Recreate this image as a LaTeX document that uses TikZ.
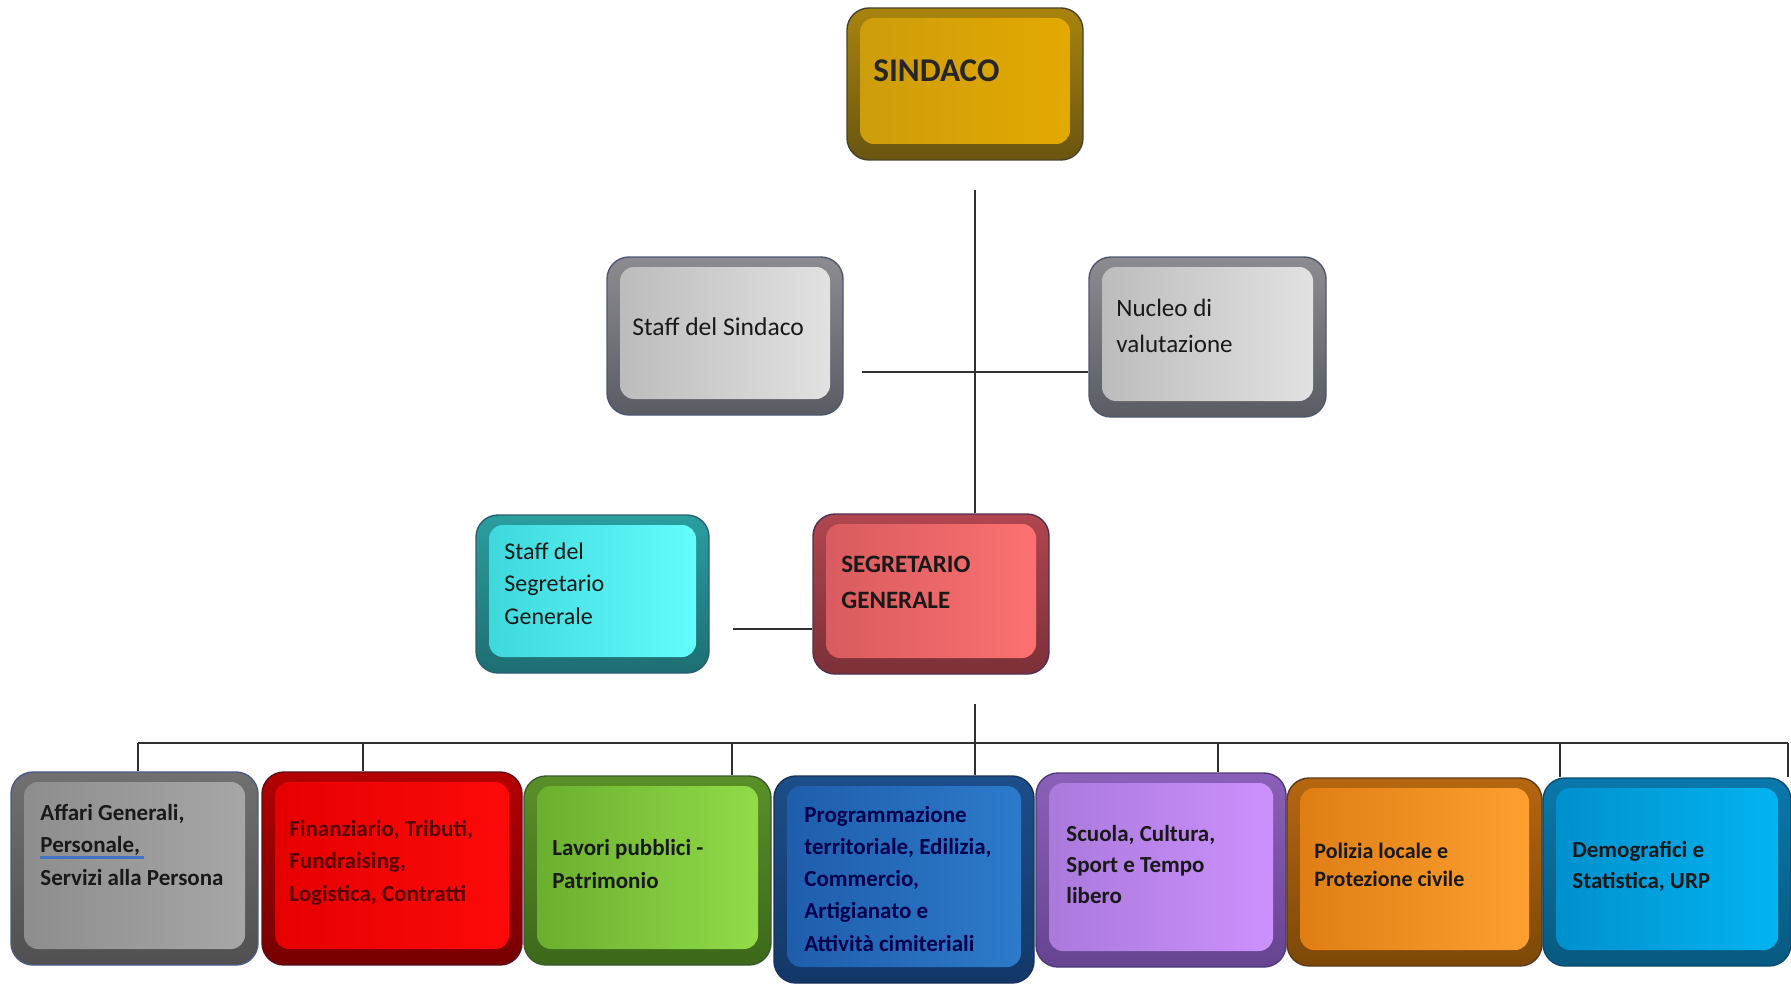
\documentclass[tikz,border=0pt]{standalone}
\usepackage{fontspec}
\setmainfont{Carlito}
\usepackage{tikz}
\usetikzlibrary{positioning}

% face left / face right / rim top / rim bottom / outline
\definecolor{goldL}{HTML}{CC9C0C}\definecolor{goldR}{HTML}{E4AA00}\definecolor{goldT}{HTML}{A8840E}\definecolor{goldB}{HTML}{6A5510}\definecolor{goldO}{HTML}{4A4030}
\definecolor{greyL}{HTML}{BABABA}\definecolor{greyR}{HTML}{E4E4E4}\definecolor{greyT}{HTML}{8C8C90}\definecolor{greyB}{HTML}{5A5C64}\definecolor{greyO}{HTML}{4E5870}
\definecolor{cyanL}{HTML}{3CD6DA}\definecolor{cyanR}{HTML}{66FFFF}\definecolor{cyanT}{HTML}{2A9EA0}\definecolor{cyanB}{HTML}{1E6E72}\definecolor{cyanO}{HTML}{2A5E70}
\definecolor{pinkL}{HTML}{D65A5E}\definecolor{pinkR}{HTML}{FF7272}\definecolor{pinkT}{HTML}{B04650}\definecolor{pinkB}{HTML}{7C3038}\definecolor{pinkO}{HTML}{503050}
\definecolor{ashL}{HTML}{8C8C8C}\definecolor{ashR}{HTML}{A8A8A8}\definecolor{ashT}{HTML}{707070}\definecolor{ashB}{HTML}{505050}\definecolor{ashO}{HTML}{4A5A88}
\definecolor{redL}{HTML}{E40000}\definecolor{redR}{HTML}{FF0A0A}\definecolor{redT}{HTML}{B40000}\definecolor{redB}{HTML}{760000}\definecolor{redO}{HTML}{5A1020}
\definecolor{leafL}{HTML}{68AC2E}\definecolor{leafR}{HTML}{94DE4A}\definecolor{leafT}{HTML}{5A9028}\definecolor{leafB}{HTML}{3C681A}\definecolor{leafO}{HTML}{3A5A30}
\definecolor{navyL}{HTML}{1E5CAA}\definecolor{navyR}{HTML}{2E7CCC}\definecolor{navyT}{HTML}{1C4E8A}\definecolor{navyB}{HTML}{123868}\definecolor{navyO}{HTML}{1A3058}
\definecolor{lilacL}{HTML}{A878DA}\definecolor{lilacR}{HTML}{CE92FF}\definecolor{lilacT}{HTML}{8A60B8}\definecolor{lilacB}{HTML}{664490}\definecolor{lilacO}{HTML}{4E3A78}
\definecolor{amberL}{HTML}{DE7C12}\definecolor{amberR}{HTML}{FFA232}\definecolor{amberT}{HTML}{B66610}\definecolor{amberB}{HTML}{7C4808}\definecolor{amberO}{HTML}{5A3A20}
\definecolor{skyL}{HTML}{008ECC}\definecolor{skyR}{HTML}{02B6F2}\definecolor{skyT}{HTML}{0A78AA}\definecolor{skyB}{HTML}{085A80}\definecolor{skyO}{HTML}{0A4A70}
\definecolor{wireC}{HTML}{303030}
\definecolor{ulblue}{HTML}{4472C4}

\newcommand{\squiggle}[1]{{\setbox0\hbox{#1\,}\rlap{\color{ulblue}\rule[-3pt]{\wd0}{1.4pt}}#1}}

\tikzset{
  block/.style={rectangle, rounded corners=11pt, draw=#1O, line width=0.7pt,
    top color=#1T, bottom color=#1B,
    path picture={\shade[rounded corners=7pt, left color=#1L, right color=#1R]
      ([shift={(6.5pt,8pt)}]path picture bounding box.south west) rectangle
      ([shift={(-6.5pt,-5pt)}]path picture bounding box.north east);}},
  boxtext/.style={anchor=base west, align=left, inner sep=0pt, text=black!90},
  unit/.style={boxtext, font=\fontsize{11.5pt}{16.25pt}\selectfont\bfseries},
  wire/.style={draw=wireC, line width=1.2pt}
}

\begin{document}
\begin{tikzpicture}[x=0.5pt, y=-0.5pt]
    \useasboundingbox (0,0) rectangle (1791,984);

    % vertici
    \node [block=gold, minimum width=118pt, minimum height=76pt] (sindaco) at (965,84) {};
    \node [block=grey, minimum width=118pt, minimum height=79pt] (staffsind) at (725,336) {};
    \node [block=grey, minimum width=118.5pt, minimum height=80pt] (nucleo) at (1207.5,337) {};
    \node [block=cyan, minimum width=116.5pt, minimum height=79pt] (staffsegr) at (592.5,594) {};
    \node [block=pink, minimum width=118pt, minimum height=80pt] (segr) at (931,594) {};

    % settori
    \node [block=ash, minimum width=123.5pt, minimum height=96.5pt] (affari) at (134.5,868.5) {};
    \node [block=red, minimum width=130pt, minimum height=96.5pt] (finanz) at (392,868.5) {};
    \node [block=leaf, minimum width=123.5pt, minimum height=94.5pt] (lavori) at (647.5,870.5) {};
    \node [block=navy, minimum width=130pt, minimum height=103.5pt] (program) at (904,879.5) {};
    \node [block=lilac, minimum width=125pt, minimum height=97pt] (scuola) at (1161,870) {};
    \node [block=amber, minimum width=127.5pt, minimum height=94pt] (polizia) at (1414.5,872) {};
    \node [block=sky, minimum width=124pt, minimum height=94pt] (demog) at (1667,872) {};

    % testi (ancorati alla linea di base dell'ultima riga)
    \node [boxtext, font=\fontsize{16.6pt}{19pt}\selectfont\bfseries, text=black!85] (sindaco-t) at (873,82) {SINDACO};
    \node [boxtext, font=\fontsize{12.8pt}{18pt}\selectfont] (staffsind-t) at (632,335) {Staff del Sindaco};
    \node [boxtext, font=\fontsize{12.5pt}{18pt}\selectfont] (nucleo-t) at (1116,352) {Nucleo di\\valutazione};
    \node [boxtext, font=\fontsize{12pt}{16.25pt}\selectfont] (staffsegr-t) at (504,624) {Staff del\\Segretario\\Generale};
    \node [boxtext, font=\fontsize{12.5pt}{18pt}\selectfont\bfseries] (segr-t) at (841,608) {SEGRETARIO\\GENERALE};

    \node [unit] (affari-t) at (40,885) {Affari Generali,\\\squiggle{Personale,}\\Servizi alla Persona};
    \node [unit, text=red!35!black] (finanz-t) at (289,901) {Finanziario, Tributi,\\Fundraising,\\Logistica, Contratti};
    \node [unit, font=\fontsize{11.5pt}{16.5pt}\selectfont\bfseries] (lavori-t) at (552,888) {Lavori pubblici -\\Patrimonio};
    \node [unit, font=\fontsize{11.5pt}{16.1pt}\selectfont\bfseries, text=blue!30!black] (program-t) at (804,951) {Programmazione\\territoriale, Edilizia,\\Commercio,\\Artigianato e\\Attività cimiteriali};
    \node [unit, font=\fontsize{11.5pt}{15.5pt}\selectfont\bfseries] (scuola-t) at (1066,903) {Scuola, Cultura,\\Sport e Tempo\\libero};
    \node [unit, font=\fontsize{11pt}{14pt}\selectfont\bfseries] (polizia-t) at (1314,886) {Polizia locale e\\Protezione civile};
    \node [unit, font=\fontsize{11.5pt}{15.5pt}\selectfont\bfseries] (demog-t) at (1572,888) {Demografici e\\Statistica, URP};

    % collegamenti
    \coordinate (trunk) at (975,190);
    \draw [wire] (trunk) -- (trunk |- segr.north);
    \coordinate (staffend) at (862,372);
    \draw [wire] (staffend) -- (staffend -| nucleo.west);
    \coordinate (sgend) at (733,629);
    \draw [wire] (sgend) -- (sgend -| segr.west);
    \coordinate (bustop) at (975,704);
    \coordinate (busleft) at (138,743);
    \coordinate (busright) at (1788,743);
    \draw [wire] (bustop) -- (bustop |- busleft);
    \draw [wire] (busleft) -- (busright);
    \foreach \x/\b in {138/affari, 363/finanz, 732/lavori, 975/program, 1218/scuola, 1560/demog, 1788/demog} {
        \coordinate (drop) at (\x,743);
        \draw [wire] (drop) -- (drop |- \b.north);
    }
\end{tikzpicture}
\end{document}
